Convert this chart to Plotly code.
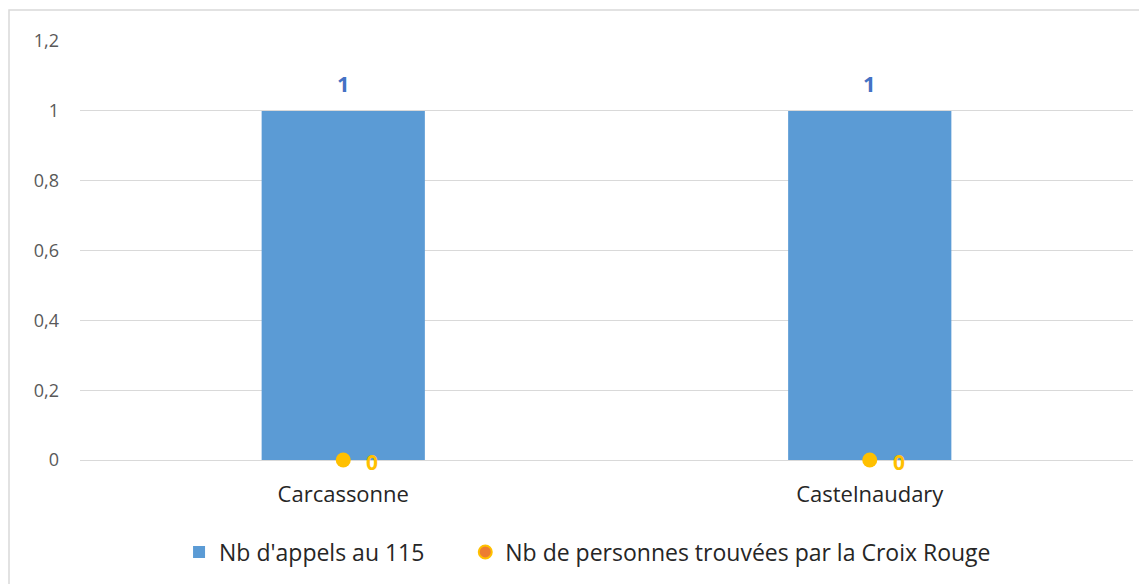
import plotly.graph_objects as go

categories = ["Carcassonne", "Castelnaudary"]
appels_115 = [1, 1]
personnes_croix_rouge = [0, 0]
y_ticks = [0, 0.2, 0.4, 0.6, 0.8, 1, 1.2]
y_tick_labels = ["0", "0,2", "0,4", "0,6", "0,8", "1", "1,2"]

# page has an 8px body margin in the browser
W, H = 1139, 576
L, R, T, B = 72, 14, 33, 123
pw = W - L - R
ph = H - T - B
FONT = "Open Sans, sans-serif"

fig = go.Figure()
fig.add_trace(go.Bar(
    x=categories, y=appels_115, name="Nb d'appels au 115" + "\u00a0" * 6,
    marker=dict(color="#5B9BD5", line=dict(width=0)),
))
fig.add_trace(go.Scatter(
    x=categories, y=personnes_croix_rouge, name="Nb de personnes trouvées par la Croix Rouge",
    mode="markers", showlegend=False,
    marker=dict(color="#FFC000", size=15, line=dict(width=0)),
    cliponaxis=False,
))
# legend entry (orange with yellow border, as in the reference legend)
fig.add_trace(go.Scatter(
    x=[None], y=[None], name="Nb de personnes trouvées par la Croix Rouge",
    mode="markers", marker=dict(color="#ED7D31", size=13, line=dict(color="#FFC000", width=2)),
))

annotations = []
for c, v in zip(categories, appels_115):
    annotations.append(dict(x=c, y=v, text=f"<b>{v}</b>", showarrow=False, yshift=28,
                            font=dict(color="#4472C4", size=22, family=FONT)))
for c, v in zip(categories, personnes_croix_rouge):
    annotations.append(dict(x=c, y=v, text=f"<b>{v}</b>", showarrow=False, xshift=29, yshift=-2,
                            font=dict(color="#FFC000", size=21, family=FONT)))

fig.add_shape(type="rect", xref="paper", yref="paper",
              x0=(1 - L) / pw, x1=1.2, y0=-0.6, y1=(H - B - 2) / ph,
              line=dict(color="#D9D9D9", width=1.5), fillcolor="rgba(0,0,0,0)", layer="below")

fig.update_layout(
    width=W, height=H,
    margin=dict(l=L, r=R, t=T, b=B),
    paper_bgcolor="white", plot_bgcolor="white",
    separators=",.",
    bargap=0.69,
    showlegend=True,
    annotations=annotations,
    legend=dict(orientation="h", x=0.482, xanchor="center", y=-91 / ph, yanchor="middle",
                font=dict(size=23, color="#262626", family=FONT),
                itemwidth=30),
    xaxis=dict(type="category", range=[-0.5, 1.5], showgrid=False, showline=False, ticks="",
               tickfont=dict(size=22, color="#262626", family=FONT),
               ticklabelstandoff=19),
    yaxis=dict(range=[0, 1.2004], tickvals=y_ticks, ticktext=y_tick_labels,
               showgrid=True, gridcolor="#D9D9D9", gridwidth=1,
               zeroline=True, zerolinecolor="#D9D9D9", zerolinewidth=1,
               showline=False, ticks="", ticklabelstandoff=20,
               tickfont=dict(size=18, color="#595959", family=FONT)),
)

fig.write_html("out.html")
